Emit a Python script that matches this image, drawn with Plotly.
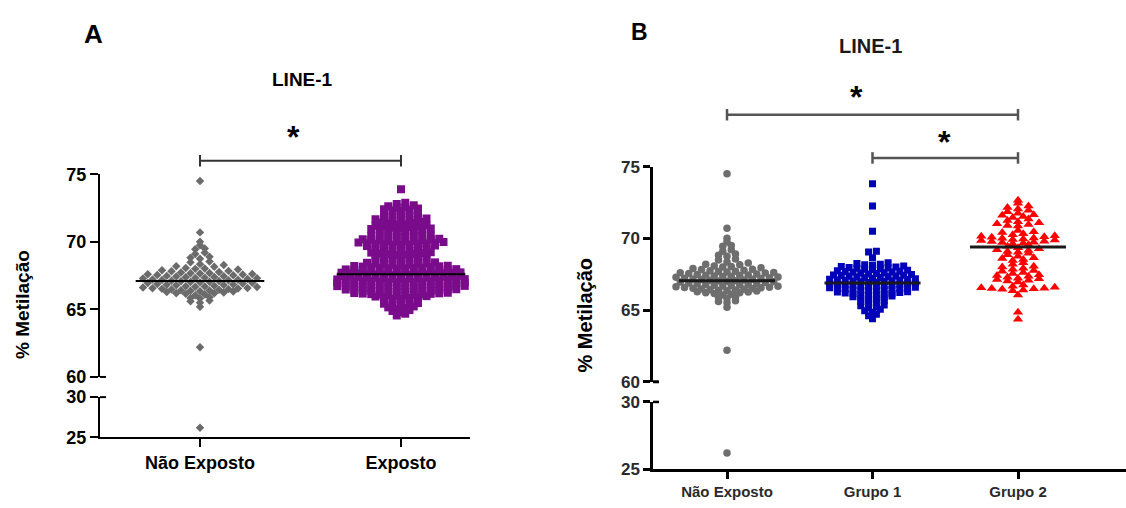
import math
import plotly.graph_objects as go

# ---------------- data ----------------
categories_a = ["Não Exposto", "Exposto"]
categories_b = ["Não Exposto", "Grupo 1", "Grupo 2"]

nao_exposto = [
    65.2, 65.5, 65.6, 65.65, 65.8, 65.85, 65.9,
    66.05, 66.1, 66.15, 66.2, 66.2, 66.25, 66.28,
    66.32, 66.35, 66.38, 66.4, 66.42, 66.45, 66.47, 66.5, 66.52, 66.55, 66.57, 66.58,
    66.62, 66.65, 66.68, 66.7, 66.72, 66.75, 66.78, 66.8, 66.82, 66.85, 66.88,
    66.92, 66.95, 66.97, 67.0, 67.02, 67.05, 67.08, 67.1, 67.12, 67.15, 67.17, 67.19,
    67.22, 67.25, 67.28, 67.3, 67.33, 67.35, 67.38, 67.4, 67.43, 67.45, 67.48,
    67.52, 67.55, 67.58, 67.6, 67.62, 67.65, 67.68, 67.7, 67.73, 67.77,
    67.82, 67.85, 67.9, 67.95, 68.0, 68.03, 68.07,
    68.15, 68.2, 68.28, 68.35, 68.48, 68.55, 68.75, 68.82, 68.9,
    69.1, 69.2, 69.45, 69.5, 69.75, 70.0, 70.7, 74.5, 62.2, 26.2,
]

exposto = [
    64.55, 64.68, 64.8, 64.88, 64.95, 65.02, 65.1, 65.15, 65.22,
    65.28, 65.32, 65.38, 65.42, 65.47, 65.52, 65.58, 65.62, 65.68, 65.72,
    65.78, 65.8, 65.85, 65.88, 65.9, 65.95, 65.98,
    66.01, 66.03, 66.05, 66.07, 66.09, 66.11, 66.13, 66.15, 66.17, 66.19, 66.21, 66.23,
    66.26, 66.28, 66.29, 66.31, 66.33, 66.34, 66.36, 66.38, 66.4, 66.42, 66.43, 66.45, 66.47, 66.49,
    66.51, 66.52, 66.54, 66.55, 66.57, 66.58, 66.6, 66.61, 66.63, 66.64, 66.66, 66.67, 66.69, 66.7, 66.72, 66.74,
    66.76, 66.77, 66.79, 66.8, 66.82, 66.83, 66.85, 66.86, 66.88, 66.89, 66.91, 66.92, 66.94, 66.95, 66.97, 66.99,
    67.01, 67.02, 67.04, 67.05, 67.07, 67.08, 67.1, 67.11, 67.13, 67.14, 67.16, 67.17, 67.19, 67.2, 67.22, 67.24,
    67.26, 67.28, 67.29, 67.31, 67.33, 67.34, 67.36, 67.37, 67.39, 67.41, 67.42, 67.44, 67.45, 67.47, 67.49,
    67.51, 67.53, 67.54, 67.56, 67.57, 67.59, 67.61, 67.62, 67.64, 67.65, 67.67, 67.69, 67.7, 67.72, 67.74,
    67.76, 67.78, 67.79, 67.81, 67.83, 67.84, 67.86, 67.88, 67.89, 67.91, 67.93, 67.94, 67.96, 67.98,
    68.01, 68.03, 68.05, 68.07, 68.09, 68.11, 68.13, 68.15, 68.17, 68.19, 68.21, 68.23,
    68.27, 68.3, 68.32, 68.35, 68.38, 68.4, 68.42, 68.45, 68.48,
    68.52, 68.55, 68.58, 68.62, 68.65, 68.68, 68.72,
    68.77, 68.8, 68.84, 68.87, 68.9, 68.94, 68.97,
    69.02, 69.05, 69.08, 69.11, 69.14, 69.17, 69.2, 69.23,
    69.27, 69.3, 69.33, 69.37, 69.4, 69.43, 69.47,
    69.52, 69.54, 69.57, 69.6, 69.62, 69.65, 69.67, 69.7, 69.73,
    69.76, 69.78, 69.8, 69.82, 69.84, 69.86, 69.88, 69.9, 69.92, 69.95, 69.98,
    70.01, 70.03, 70.06, 70.08, 70.1, 70.12, 70.15, 70.17, 70.2, 70.23,
    70.27, 70.3, 70.32, 70.35, 70.38, 70.41, 70.44, 70.47,
    70.53, 70.57, 70.6, 70.64, 70.68, 70.72,
    70.77, 70.8, 70.83, 70.86, 70.89, 70.92, 70.95, 70.98,
    71.02, 71.05, 71.09, 71.12, 71.16, 71.19, 71.22,
    71.28, 71.31, 71.35, 71.39, 71.43, 71.47,
    71.52, 71.55, 71.58, 71.62, 71.65, 71.68, 71.72,
    71.78, 71.82, 71.86, 71.9, 71.95,
    72.02, 72.07, 72.12, 72.16, 72.21,
    72.28, 72.32, 72.37, 72.41, 72.46,
    72.53, 72.58, 72.64, 72.7, 72.8, 72.9, 73.9,
]

grupo_1 = [
    64.4, 64.6, 64.7, 64.85, 64.95, 65.05, 65.15, 65.22, 65.3, 65.35,
    65.45, 65.52, 65.6, 65.65, 65.72, 65.78, 65.82, 65.87, 65.92, 65.97,
    66.02, 66.05, 66.08, 66.1, 66.13, 66.16, 66.19, 66.22, 66.25, 66.28,
    66.32, 66.34, 66.37, 66.39, 66.42, 66.44, 66.46, 66.49, 66.51, 66.53, 66.56, 66.58,
    66.62, 66.64, 66.66, 66.69, 66.71, 66.73, 66.76, 66.78, 66.8, 66.83, 66.85, 66.88,
    66.92, 66.94, 66.97, 66.99, 67.01, 67.04, 67.06, 67.08, 67.11, 67.13, 67.15, 67.18,
    67.22, 67.25, 67.27, 67.3, 67.32, 67.35, 67.37, 67.4, 67.42, 67.45, 67.48,
    67.52, 67.55, 67.58, 67.6, 67.63, 67.66, 67.69, 67.71, 67.74, 67.77,
    67.82, 67.85, 67.88, 67.91, 67.94, 67.97, 68.0, 68.03, 68.07,
    68.12, 68.16, 68.2, 68.25, 68.3, 68.65, 69.05, 69.1, 70.5, 72.25, 73.8,
]

grupo_2 = [
    64.35, 64.85, 66.05,
    66.35, 66.4, 66.45, 66.48, 66.5, 66.52, 66.55, 66.58, 66.65, 66.75,
    66.95, 67.02, 67.08, 67.12, 67.18, 67.22, 67.28, 67.35, 67.4, 67.46,
    67.55, 67.62, 67.7, 67.75, 67.85, 67.92, 68.0, 68.05, 68.2, 68.3,
    68.45, 68.52, 68.6, 68.65, 68.75, 68.85, 68.95,
    69.02, 69.08, 69.15, 69.2, 69.27, 69.35, 69.45, 69.55,
    69.62, 69.65, 69.7, 69.72, 69.77, 69.8, 69.84, 69.88,
    69.92, 69.95, 70.0, 70.03, 70.07, 70.1, 70.14, 70.18,
    70.25, 70.32, 70.4, 70.45, 70.55,
    70.85, 70.9, 70.97, 71.02, 71.08, 71.15, 71.25, 71.35,
    71.45, 71.52, 71.6, 71.65, 71.75, 71.85, 71.95,
    72.05, 72.15, 72.25, 72.45, 72.65,
]

median_a = [67.1, 67.6]
median_b = [67.05, 66.88, 69.4]

ticks_upper = [60, 65, 70, 75]
ticks_lower = [25, 30]

# ---------------- layout helpers ----------------
W, H = 1126, 508
FONT = "Liberation Sans, Arial, sans-serif"


def swarm(values, bin_h, dx):
    """GraphPad-like row layout: points in the same value bin are placed side by side."""
    bins = {}
    for i, v in enumerate(values):
        bins.setdefault(math.floor(v / bin_h + 1e-9), []).append(i)
    offs = [0.0] * len(values)
    for idx in bins.values():
        idx.sort(key=lambda i: values[i])
        n = len(idx)
        c = (n - 1) / 2
        order = sorted(range(n), key=lambda k: (abs(k - c), k))
        for j, k in enumerate(order):
            offs[idx[j]] = (k - c) * dx
    return offs


# panel geometry (pixels)
A_X0, A_X1, A_C0, A_STEP = 100, 470, 200, 201
B_X0, B_X1, B_C0, B_STEP = 653, 1126, 727, 145.5
a_range = [(A_X0 - A_C0) / A_STEP, (A_X1 - A_C0) / A_STEP]
b_range = [(B_X0 - B_C0) / B_STEP, (B_X1 - B_C0) / B_STEP]

fig = go.Figure()


def add_group(vals, cat, xa, ylo, yup, bin_h, dx_px, step, marker):
    offs = swarm(vals, bin_h, dx_px / step)
    up = [(cat + o, v) for o, v in zip(offs, vals) if v >= 45]
    lo = [(cat + o, v) for o, v in zip(offs, vals) if v < 45]
    for pts, ya in ((up, yup), (lo, ylo)):
        if pts:
            fig.add_trace(go.Scatter(
                x=[p[0] for p in pts], y=[p[1] for p in pts], xaxis=xa, yaxis=ya,
                mode="markers", marker=marker, showlegend=False, hoverinfo="skip"))


def add_median(m, cat, xa, ya, half, color, width):
    fig.add_trace(go.Scatter(x=[cat - half, cat + half], y=[m, m], xaxis=xa, yaxis=ya,
                             mode="lines", line=dict(color=color, width=width),
                             showlegend=False, hoverinfo="skip"))


# Panel A
add_group(nao_exposto, 0, "x", "y", "y2", 0.33, 9.5, A_STEP,
          dict(symbol="diamond", size=6.5, color="#6b6b6b"))
add_group(exposto, 1, "x", "y", "y2", 0.25, 8.5, A_STEP,
          dict(symbol="square", size=8, color="#7a0c8c"))
for i, m in enumerate(median_a):
    add_median(m, i, "x", "y2", 0.32, "black", 2)

# Panel B
add_group(nao_exposto, 0, "x2", "y3", "y4", 0.33, 8.5, B_STEP,
          dict(symbol="circle", size=7.5, color="#6e6e6e"))
add_group(grupo_1, 1, "x2", "y3", "y4", 0.3, 7.8, B_STEP,
          dict(symbol="square", size=7, color="#0000b8"))
add_group(grupo_2, 2, "x2", "y3", "y4", 0.3, 10.5, B_STEP,
          dict(symbol="triangle-up", size=9, color="#ff0000"))
for i, m in enumerate(median_b):
    add_median(m, i, "x2", "y4", 0.33, "#1a1a1a", 3)

common = dict(showgrid=False, zeroline=False, showline=True, linecolor="black",
              ticks="outside", tickcolor="black")
fa_tick = dict(family=FONT, size=18, color="black", weight="bold")
fb_tick = dict(family=FONT, size=17, color="#2a2a2a", weight="bold")

fig.update_layout(
    width=W, height=H, margin=dict(l=0, r=0, t=0, b=0), autosize=False,
    paper_bgcolor="white", plot_bgcolor="white", showlegend=False,
    font=dict(family=FONT, color="black"),
    xaxis=dict(domain=[A_X0 / W, A_X1 / W], range=a_range, anchor="y",
               tickvals=[0, 1], ticktext=categories_a, linewidth=2, tickwidth=2, ticklen=8,
               tickfont=dict(family=FONT, size=18, color="black", weight="bold"), **common),
    yaxis=dict(domain=[1 - 445 / H, 1 - 403 / H], range=[25, 30], anchor="x", ticklen=8,
               tickvals=ticks_lower, linewidth=2, tickwidth=2, tickfont=fa_tick, **common),
    yaxis2=dict(domain=[1 - 382 / H, 1 - 171 / H], range=[60, 75], anchor="x", ticklen=8,
                tickvals=ticks_upper, linewidth=2, tickwidth=2, tickfont=fa_tick, **common),
    xaxis2=dict(domain=[B_X0 / W, B_X1 / W], range=b_range, anchor="y3", ticklen=7,
                tickvals=[0, 1, 2], ticktext=categories_b, linewidth=3, tickwidth=2.5,
                tickfont=dict(family=FONT, size=15, color="#2a2a2a", weight="bold"), **common),
    yaxis3=dict(domain=[1 - 478 / H, 1 - 408 / H], range=[25, 30], anchor="x2", ticklen=7,
                tickvals=ticks_lower, linewidth=2.5, tickwidth=2.5, tickfont=fb_tick, **common),
    yaxis4=dict(domain=[1 - 387 / H, 1 - 163 / H], range=[60, 75], anchor="x2", ticklen=7,
                tickvals=ticks_upper, linewidth=2.5, tickwidth=2.5, tickfont=fb_tick, **common),
)

shapes = []
# axis-break marks (tick continues to the right of the axis)
for xr, yr, yv, span, w in (("x domain", "y2 domain", 0, 370, 2), ("x domain", "y domain", 1, 370, 2),
                             ("x2 domain", "y4 domain", 0, 473, 3), ("x2 domain", "y3 domain", 1, 473, 2.5)):
    shapes.append(dict(type="line", xref=xr, yref=yr, x0=0, x1=6 / span, y0=yv, y1=yv,
                       line=dict(color="black", width=w)))


def bracket(xa, ydom, c0, c1, level_px, top_px, bot_px, color, width):
    lv = lambda p: (bot_px - p) / (bot_px - top_px)
    y = lv(level_px)
    up, dn = lv(level_px - 6), lv(level_px + 6)
    for x0, x1, y0, y1 in ((c0, c1, y, y), (c0, c0, up, dn), (c1, c1, up, dn)):
        shapes.append(dict(type="line", xref=xa, yref=ydom, x0=x0, x1=x1, y0=y0, y1=y1,
                           line=dict(color=color, width=width)))


bracket("x", "y2 domain", 0, 1, 157, 171, 382, "#333", 2)
bracket("x2", "y4 domain", 0, 2, 109, 163, 387, "#555", 2.5)
bracket("x2", "y4 domain", 1, 2, 154, 163, 387, "#555", 2.5)
fig.update_layout(shapes=shapes)

ann = []


def text(t, px, py, size, bold=True, angle=0, color="black"):
    ann.append(dict(text=t, x=px / W, y=1 - py / H, xref="paper", yref="paper",
                    showarrow=False, textangle=angle, xanchor="center", yanchor="middle",
                    font=dict(family=FONT, size=size, color=color,
                              weight="bold" if bold else "normal")))


text("A", 93, 25, 26)
text("B", 639, 23, 23)
text("LINE-1", 302, 72, 19)
text("LINE-1", 870, 37, 20, color="#1a1a1a")
text("% Metilação", 23, 307, 19, angle=-90)
text("% Metilação", 585, 318, 20, angle=-90)
text("*", 293, 132, 32)
text("*", 856, 91, 32)
text("*", 944, 137, 32)
fig.update_layout(annotations=ann)

fig.write_html("out.html")
